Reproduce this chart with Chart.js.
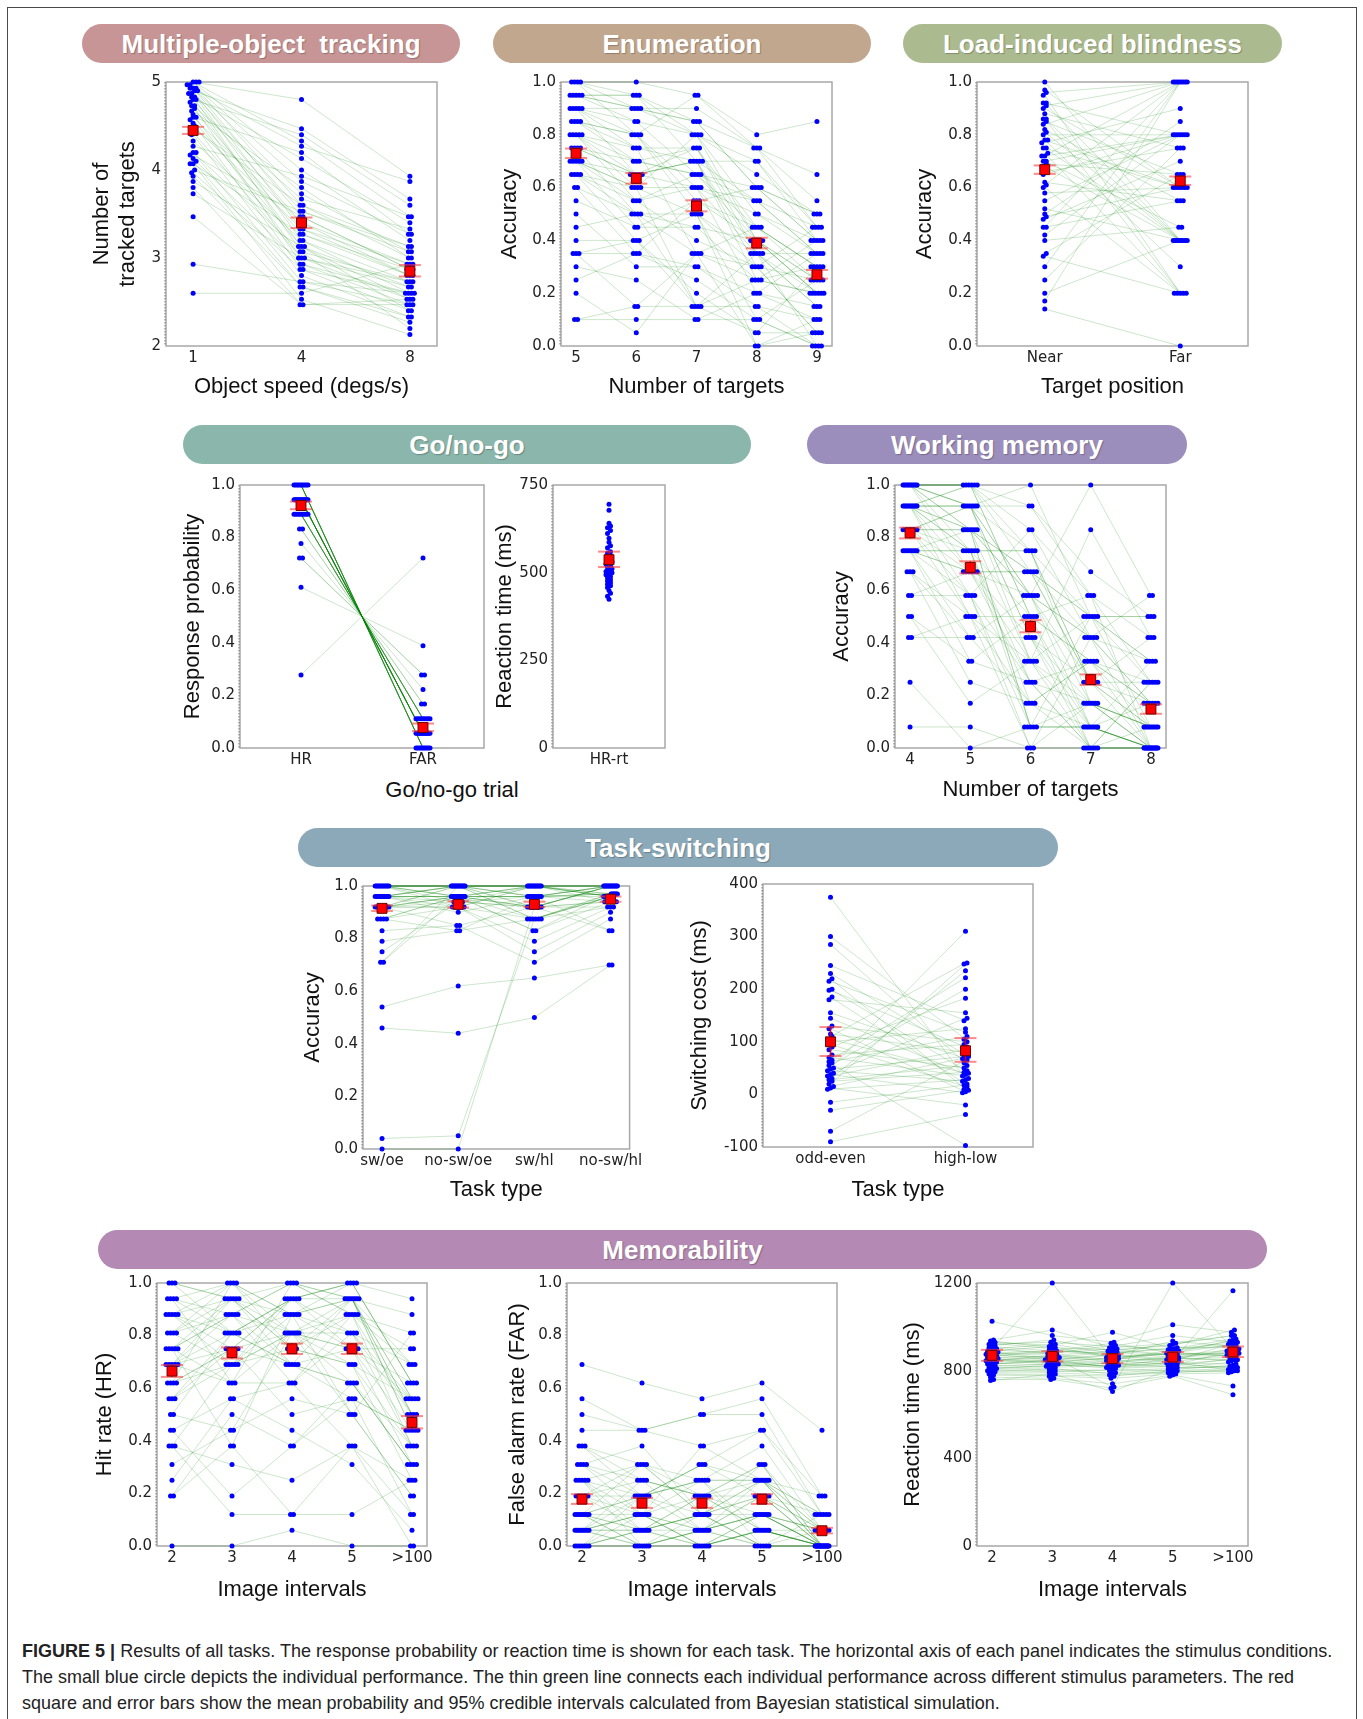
<!DOCTYPE html>
<html>
<head>
<meta charset="utf-8">
<script src="https://cdn.jsdelivr.net/npm/chart.js@4.4.1/dist/chart.umd.min.js"></script>
<style>
  body { margin: 0; background: #fff; }
  #page { position: relative; width: 1363px; height: 1719px; overflow: hidden; }
  #box { position: absolute; left: 7px; top: 7px; width: 1348px; height: 1760px; border: 1.5px solid #4a4a4a; }
  .banner { position: absolute; height: 34px; padding-top: 5px; line-height: 39px; border-radius: 20px; color: #fff; text-align: center;
            font: bold 26px "Liberation Sans", Arial, sans-serif; text-shadow: 1px 1px 1px rgba(0,0,0,0.25); white-space: pre; }
  canvas { position: absolute; }
  .xlab { position: absolute; font: 22px "Liberation Sans", Arial, sans-serif; color: #111; transform: translate(-50%, -50%); white-space: nowrap; }
  .cap { position: absolute; left: 22px; font: 18.5px "Liberation Sans", Arial, sans-serif; color: #222; white-space: nowrap; transform-origin: 0 50%; }
</style>
</head>
<body>
<div id="page">
  <div id="box"></div>

  <div class="banner" style="left:82px;top:24px;width:378px;background:#c79595">Multiple-object  tracking</div>
  <div class="banner" style="left:493px;top:24px;width:378px;background:#c2a78f">Enumeration</div>
  <div class="banner" style="left:903px;top:24px;width:379px;background:#abbb8f">Load-induced blindness</div>
  <div class="banner" style="left:183px;top:425px;width:568px;background:#8ab6ac">Go/no-go</div>
  <div class="banner" style="left:807px;top:425px;width:380px;background:#9c8ebc">Working memory</div>
  <div class="banner" style="left:298px;top:828px;width:760px;background:#8ca9ba">Task-switching</div>
  <div class="banner" style="left:98px;top:1230px;width:1169px;background:#b489b3">Memorability</div>

  <div class="xlab" style="left:452px;top:790px">Go/no-go trial</div>

  <div class="cap" data-w="1310" style="top:1640px"><b>FIGURE 5 |</b> Results of all tasks. The response probability or reaction time is shown for each task. The horizontal axis of each panel indicates the stimulus conditions.</div>
  <div class="cap" data-w="1272" style="top:1666px">The small blue circle depicts the individual performance. The thin green line connects each individual performance across different stimulus parameters. The red</div>
  <div class="cap" data-w="978" style="top:1692px">square and error bars show the mean probability and 95% credible intervals calculated from Bayesian statistical simulation.</div>
</div>

<script>
// ---------- data ----------

// tick labels
const motCats = ['1', '4', '8'];
const enumCats = ['5', '6', '7', '8', '9'];
const libCats = ['Near', 'Far'];
const gngCats = ['HR', 'FAR'];
const gngRtCats = ['HR-rt'];
const wmCats = ['4', '5', '6', '7', '8'];
const tsAccCats = ['sw/oe', 'no-sw/oe', 'sw/hl', 'no-sw/hl'];
const tsCostCats = ['odd-even', 'high-low'];
const memCats = ['2', '3', '4', '5', '>100'];

const motTicks = [2, 3, 4, 5];
const propTicks = [0, 0.2, 0.4, 0.6, 0.8, 1.0];
const gngRtTicks = [0, 250, 500, 750];
const tsCostTicks = [-100, 0, 100, 200, 300, 400];
const memRtTicks = [0, 400, 800, 1200];

// Multiple-object tracking: tracked targets per participant, per speed
const motSpeed1 = [5.0,5.0,5.0,4.97,4.97,4.93,4.93,4.93,4.9,4.9,4.87,4.87,4.83,4.83,4.8,4.8,4.77,4.73,4.73,4.7,4.67,4.63,4.6,4.6,4.57,4.53,4.5,4.47,4.43,4.4,4.33,4.27,4.2,4.2,4.17,4.13,4.1,4.07,4.07,4.0,3.97,3.93,3.87,3.8,3.73,3.47,2.93,2.6];
const motSpeed4 = [4.8,4.33,4.0,3.87,3.6,4.27,3.47,3.73,3.33,4.47,3.2,3.53,4.13,3.07,3.4,4.4,3.13,3.67,2.93,3.27,3.8,3.0,3.4,4.2,3.13,2.87,3.33,3.6,3.0,2.8,3.2,3.93,2.73,3.07,3.47,2.93,2.67,3.27,2.53,3.53,2.87,2.67,3.13,2.47,3.0,2.47,2.73,2.6];
const motSpeed8 = [3.93,3.47,3.2,3.27,3.0,3.87,2.87,3.07,2.93,3.67,2.6,3.13,3.4,2.73,2.8,3.6,2.53,3.33,2.47,2.87,3.0,2.67,2.93,3.27,2.4,2.6,2.8,3.13,2.53,2.33,2.73,3.47,2.47,2.2,2.87,2.6,2.27,2.8,2.13,3.07,2.4,2.33,2.67,2.47,2.73,2.53,2.6,2.93];
const motMean = [4.45, 3.4, 2.85];
const motLo = [4.41, 3.34, 2.79];
const motHi = [4.49, 3.46, 2.92];

// Enumeration accuracy
const enum5 = [1,1,1,1,.95,.95,.95,.95,.95,.9,.9,.9,.9,.9,.85,.85,.85,.85,.8,.8,.8,.8,.8,.75,.75,.75,.75,.7,.7,.7,.7,.7,.65,.65,.65,.65,.6,.6,.55,.5,.45,.4,.35,.35,.35,.3,.25,.2,.1,.1];
const enum6 = [.9,1,.95,.8,.95,.9,.85,.95,.9,.75,.8,.9,.65,.85,.8,.7,.75,.8,.6,.7,.65,.75,.55,.65,.7,.5,.65,.6,.65,.45,.6,.55,.5,.6,.4,.55,.35,.5,.45,.3,.5,.4,.15,.35,.4,.25,.35,.05,.15,.1];
const enum7 = [.85,.95,.8,.95,.7,.9,.65,.85,.8,.75,.6,.85,.7,.8,.55,.75,.7,.5,.8,.65,.7,.35,.6,.75,.65,.45,.6,.15,.7,.55,.5,.65,.35,.6,.5,.4,.55,.15,.45,.3,.5,.2,.35,.25,.15,.1,.3,.35,.15,.1];
const enum8 = [.6,.75,.7,.8,.55,.75,.45,.6,.65,.4,.55,.75,.35,.5,.6,.45,.7,.3,.4,.55,.25,.45,.5,.35,.6,.4,.2,.35,.3,.45,.1,.4,.25,.35,0,.3,.4,.15,.25,.2,.35,.05,.3,.1,.25,.2,.15,0,.05,.1];
const enum9 = [.5,.45,.4,.85,.35,.55,.3,.4,.5,.25,.45,.65,.2,.35,.4,.3,.45,.05,.2,.35,.3,.25,.4,.15,.5,.2,.1,.35,.25,.3,0,.2,.4,.15,.05,.45,.25,.1,.2,.35,0,.3,.05,.25,.2,.15,0,.1,.05,0];
const enumMean = [0.73, 0.635, 0.53, 0.39, 0.27];
const enumLo = [0.712, 0.615, 0.51, 0.37, 0.255];
const enumHi = [0.748, 0.655, 0.552, 0.41, 0.288];

// Load-induced blindness accuracy
const libNear = [1.0,.97,.96,.95,.92,.92,.91,.9,.88,.86,.86,.85,.84,.82,.81,.8,.78,.78,.77,.75,.75,.73,.72,.7,.7,.69,.68,.66,.65,.62,.61,.6,.58,.55,.52,.5,.49,.48,.45,.45,.42,.4,.35,.34,.3,.25,.2,.17,.14,.72];
const libFar = [.4,.6,1,.2,.8,.4,1,.6,.75,.4,.2,.65,1,.55,.4,.8,.6,.3,.9,.4,.6,.2,1,.8,.45,.65,.4,.75,.8,.55,1,.2,.6,.8,.4,.85,.6,.7,1,.55,.8,.45,.65,.2,1,.75,.4,1,0,.8];
const libMean = [0.668, 0.625];
const libLo = [0.652, 0.61];
const libHi = [0.684, 0.642];

// Go/no-go
const gngHR = [1,1,1,1,1,1,1,1,1,1,.944,.944,.944,.944,.944,.944,.944,.944,.944,.944,.944,.944,.944,.944,.944,.889,.889,.889,.889,.889,.889,.889,.889,.833,.833,.778,.722,.722,.611,.278];
const gngFAR = [0,0,0,0,0,0,0,0,0,0,.056,.056,.056,.056,.056,.056,.056,.056,.056,.056,.056,.056,.056,.056,.056,.111,.111,.111,.111,.111,.111,.111,.111,.167,.167,.222,.278,.278,.389,.722];
const gngMean = [0.922, 0.078];
const gngLo = [0.908, 0.064];
const gngHi = [0.937, 0.093];
const gngRT = [695,678,641,633,628,620,612,598,587,577,571,560,556,549,547,540,536,531,527,524,519,515,511,508,503,500,497,494,489,485,480,476,471,467,463,458,449,441,433,424];
const gngRtMean = [537];
const gngRtLo = [516];
const gngRtHi = [560];

// Working memory accuracy
const wm4 = [1,1,1,1,1,1,1,1,1,1,1,.92,.92,.92,.92,.92,.92,.92,.92,.92,.92,.92,.92,.83,.83,.83,.83,.83,.83,.83,.83,.75,.75,.75,.75,.75,.75,.75,.75,.67,.67,.67,.58,.58,.5,.5,.42,.42,.25,.08];
const wm5 = [1,.92,.83,1,.92,.75,1,.83,.92,.67,1,.92,.83,.75,1,.58,.92,.83,.67,.75,.92,1,.5,.83,.92,.67,.58,.75,.83,.5,.92,.67,.75,.42,.83,.58,.67,.33,.75,.5,.42,.25,.67,.58,.33,.17,.5,.42,0,.08];
const wm6 = [.75,.92,.58,.67,1,.5,.83,.33,.75,.58,.92,.42,.67,.25,.5,.83,.58,.08,.67,.75,.33,.5,.17,.58,.42,.67,.25,.75,.08,.5,.58,.33,.17,.42,.67,0,.25,.5,.08,.33,.58,.17,.42,.08,.25,.33,0,.17,.08,0];
const wm7 = [.5,.58,1,.42,.5,.33,.58,.17,.25,.42,.67,.25,.5,0,.33,.42,.08,.5,.25,.17,.83,.08,.33,.42,.17,.5,0,.25,.08,.58,.17,0,.33,.08,.25,.42,.17,0,.08,.5,.25,.08,0,.17,.33,.08,.17,0,.08,0];
const wm8 = [.33,.25,.58,.17,.5,.08,.42,0,.25,.33,.5,.08,.25,0,.17,.58,0,.33,.08,0,.42,0,.25,.17,0,.5,.08,0,.33,0,.08,.25,0,.17,.42,0,.08,.25,0,.08,.17,0,0,.08,.17,0,.08,0,0,0];
const wmMean = [0.818, 0.687, 0.462, 0.26, 0.148];
const wmLo = [0.797, 0.664, 0.44, 0.24, 0.13];
const wmHi = [0.838, 0.71, 0.486, 0.28, 0.166];

// Task-switching accuracy
const tsOeSw = [1,1,1,1,1,1,1,1,1,1,1,1,.96,.96,.96,.96,.96,.96,.96,.96,.96,.96,.96,.92,.92,.92,.92,.92,.92,.92,.92,.92,.875,.875,.875,.875,.83,.79,.75,.71,.71,.54,.46,.04,0];
const tsOeNoSw = [1,1,.96,1,.96,1,.94,1,.96,1,.92,1,1,.96,1,.94,.96,1,.92,.96,1,.96,.9,1,.96,.94,.92,.96,1,.85,.96,.92,.96,.83,.92,.96,.85,.83,.94,.96,1,.62,.44,.05,0];
const tsHlSw = [1,1,1,.96,1,.92,1,.96,1,.92,1,.875,1,.96,1,.92,.96,1,.875,.96,1,.92,.96,.875,.96,.92,1,.83,.96,.92,.875,.79,.92,.96,.75,.83,.71,.875,.96,.92,1,.65,.5,.875,.92];
const tsHlNoSw = [1,.97,1,1,.97,1,.96,1,.94,1,.96,.97,1,.97,.96,1,.94,1,.96,.97,1,.94,.96,.97,1,.92,.96,.97,1,.94,.96,.92,1,.97,.9,.94,.875,.92,.83,.83,1,.7,.7,.96,1];
const tsAccMean = [0.915, 0.93, 0.93, 0.95];
const tsAccLo = [0.905, 0.918, 0.92, 0.94];
const tsAccHi = [0.926, 0.942, 0.94, 0.96];

// Task-switching cost (ms)
const tsCostOddEven = [375,300,285,245,230,220,215,200,198,185,180,155,145,130,125,115,110,105,100,95,90,85,75,70,65,62,60,55,50,48,45,40,38,35,30,28,25,20,15,12,10,-15,-30,-70,-90];
const tsCostHighLow = [30,105,60,140,75,10,118,45,90,20,155,68,38,100,5,80,250,40,125,15,183,50,95,35,222,110,-97,200,310,72,25,145,3,85,235,55,42,248,70,-20,28,18,8,65,-38];
const tsCostMean = [100, 83];
const tsCostLo = [73, 62];
const tsCostHi = [128, 107];

// Memorability: hit rate
const memHr2 = [.94,.62,.88,.5,1,.75,.81,.38,.69,.94,.56,.88,.31,.75,.19,.62,1,.69,.44,.81,.94,.25,.56,.88,.38,.75,.69,0,.81,.62,.19,.94,.5,.69,.88,.38,.81,.56,1,.75,.44,.69,.62,.88,.75];
const memHr3 = [.88,1,.75,.81,.94,.62,.94,.69,.88,.81,.69,1,.44,.88,.38,.75,.94,.81,.19,.69,1,.56,.81,.69,.31,.94,.62,0,.88,.75,.5,.62,.44,.94,.81,.12,1,.75,.81,.88,.56,.75,.69,.94,.38];
const memHr4 = [1,.81,.94,.69,.88,1,.75,.81,.62,.94,.75,.88,.56,.81,.12,.94,1,.69,.38,.88,.75,.44,.88,.94,.25,.81,.62,.06,1,.69,.38,.81,.81,.75,.94,.12,.88,.5,.94,.69,.62,.81,.81,.69,.88];
const memHr5 = [.94,.94,1,.94,.81,.88,.94,.75,.88,1,.69,.94,.5,.75,.38,.81,.88,.62,.56,.94,.88,.31,.75,1,.38,.69,.81,0,.94,.56,.62,.88,.5,.69,.75,.12,1,.56,.94,.62,.38,.81,.62,.75,.5];
const memHr100 = [.56,.5,.62,.44,.69,.38,.56,.31,.5,.62,.25,.44,.19,.56,0,.38,.81,.31,.12,.5,.69,.06,.44,.62,.25,.38,.5,0,.69,.44,.31,.75,.19,.56,.62,.25,.94,.44,.88,.31,.12,.56,.38,.75,.81];
const memHrMean = [0.665, 0.735, 0.75, 0.75, 0.47];
const memHrLo = [0.643, 0.713, 0.73, 0.73, 0.447];
const memHrHi = [0.688, 0.755, 0.77, 0.77, 0.494];

// Memorability: false alarm rate
const memFar2 = [.69,.56,.5,.44,.38,.38,.38,.31,.31,.31,.31,.25,.25,.25,.25,.25,.19,.19,.19,.19,.19,.12,.12,.12,.12,.12,.12,.12,.12,.06,.06,.06,.06,.06,.06,.06,.06,.06,0,0,0,0,0,0,0];
const memFar3 = [.62,.44,.44,.44,.31,.19,.25,.12,.38,.19,.25,.06,.31,.12,0,.19,.31,.06,.25,.12,.19,.06,.31,0,.19,.06,.12,.19,0,.12,.25,0,.06,.19,.12,0,.06,.12,.06,0,.12,.06,.19,0,.06];
const memFar4 = [.56,.5,.5,.38,.25,.31,.19,.25,.12,.31,.06,.19,.12,.38,.06,.25,.12,0,.19,.06,.25,.12,.19,.06,.12,0,.19,.31,.12,.06,.19,0,.12,.25,0,.06,.19,0,.12,.06,0,.12,.06,0,.06];
const memFar5 = [.62,.56,.5,.44,.38,.44,.31,.25,.19,.25,.12,.25,.31,.25,.19,.06,.25,.12,.19,.25,0,.19,.06,.12,.25,.12,.06,.19,0,.12,.31,.06,.12,.25,.06,0,.12,.06,0,.19,.06,0,.12,.06,0];
const memFar100 = [.44,.19,.12,.19,.06,.12,0,.06,0,.19,0,.06,0,.12,0,.06,0,0,.06,0,.12,0,0,.06,0,.06,0,.12,0,0,.06,0,0,.12,0,0,.06,0,0,.06,0,0,0,0,.06];
const memFarMean = [0.178, 0.163, 0.163, 0.178, 0.058];
const memFarLo = [0.16, 0.145, 0.145, 0.16, 0.048];
const memFarHi = [0.197, 0.183, 0.181, 0.197, 0.069];

// Memorability: reaction time (ms)
const memRt2 = [1025,940,930,920,935,910,900,895,925,880,890,870,905,865,875,860,850,885,845,855,840,835,830,825,820,815,810,805,800,795,790,785,780,770,760,755,900,845,860,915,875,830,850,880,810];
const memRt3 = [960,985,915,930,905,890,920,880,900,870,910,860,875,895,850,865,845,855,870,835,840,825,845,815,830,805,820,800,795,810,790,780,775,765,760,785,1200,860,850,940,880,850,830,890,825];
const memRt4 = [930,905,975,910,895,925,880,915,870,890,860,885,850,865,875,840,855,830,845,860,820,835,815,825,810,800,835,790,805,785,780,775,765,740,720,705,850,725,870,890,900,815,845,880,820];
const memRt5 = [1010,925,900,960,915,880,905,890,935,870,880,860,895,875,850,865,885,845,855,840,830,860,825,835,820,810,815,805,800,795,790,800,785,780,775,810,880,1200,845,920,870,840,830,900,855];
const memRt100 = [975,960,945,930,985,920,905,935,910,895,940,890,915,880,900,870,865,925,860,875,850,845,890,830,855,840,815,825,810,800,805,795,790,730,690,820,870,900,1165,960,880,800,815,925,850];
const memRtMean = [870, 865, 855, 862, 885];
const memRtLo = [845, 842, 834, 840, 862];
const memRtHi = [895, 888, 876, 885, 910];

// ---------- drawing ----------
const AXIS_W = 90;   // room left of each plot for y ticks + title
const AXIS_H = 62;   // room under each plot for x ticks + title
const PAD_T = 10, PAD_R = 12;
const TITLE_HALF = 13.2; // half line height of a 22px title
const LINE_GREEN = 'rgba(0,128,0,0.2)';
const DOT_BLUE = '#0000ff';

const framePlugin = {
  id: 'frame',
  beforeDatasetsDraw(chart) {
    const { ctx, chartArea: a } = chart;
    ctx.save();
    ctx.strokeStyle = '#a8a8a8';
    ctx.lineWidth = 1.5;
    ctx.strokeRect(a.left, a.top, a.right - a.left, a.bottom - a.top);
    ctx.strokeStyle = '#777';
    ctx.lineWidth = 1;
    ctx.setLineDash([1.5, 1.5]);
    ctx.beginPath();
    ctx.moveTo(a.left - 1, a.top);
    ctx.lineTo(a.left - 1, a.bottom);
    ctx.stroke();
    ctx.restore();
  }
};

// dots with (nearly) the same value are laid side by side in a short row
function swarm(values, col, pxPerX, pxPerY) {
  const order = values.map((v, i) => i).sort((a, b) => values[a] - values[b]);
  const out = [];
  let row = [];
  const flush = () => {
    const span = Math.min(3 * (row.length - 1), 14);
    row.forEach((idx, k) => {
      const off = row.length > 1 ? -span / 2 + span * k / (row.length - 1) : 0;
      out[idx] = { x: col + off / pxPerX, y: values[idx] };
    });
    row = [];
  };
  order.forEach(i => {
    if (row.length && (values[i] - values[row[0]]) * pxPerY >= 3) flush();
    row.push(i);
  });
  flush();
  return out;
}

function panel(p) {
  const cv = document.createElement('canvas');
  cv.width = AXIS_W + p.w + PAD_R;
  cv.height = PAD_T + p.h + AXIS_H;
  cv.style.left = (p.left - AXIS_W) + 'px';
  cv.style.top = (p.top - PAD_T) + 'px';
  document.getElementById('page').appendChild(cv);

  const pxPerX = p.w / (p.xmax - p.xmin);
  const pxPerY = p.h / (p.ymax - p.ymin);
  const ds = [];

  // one thin green line per participant
  if (p.cols.length > 1) {
    for (let i = 0; i < p.cols[0].length; i++) {
      ds.push({ data: p.cols.map((c, j) => ({ x: j, y: c[i] })), showLine: true, borderColor: LINE_GREEN,
                borderWidth: 1, pointRadius: 0, pointHoverRadius: 0, order: 3, clip: 2 });
    }
  }
  // blue dots
  p.cols.forEach((c, j) => {
    ds.push({ data: swarm(c, j, pxPerX, pxPerY), pointRadius: 2.5, backgroundColor: DOT_BLUE,
              borderColor: DOT_BLUE, borderWidth: 0, order: 2, clip: 6 });
  });
  // credible intervals
  const cap = 11 / pxPerX;
  p.mean.forEach((m, j) => {
    ds.push({ data: [{ x: j, y: p.lo[j] }, { x: j, y: p.hi[j] }], showLine: true, borderColor: 'rgba(220,0,0,0.85)',
              borderWidth: 1.5, pointRadius: 0, order: 1 });
    [p.lo[j], p.hi[j]].forEach(b => {
      ds.push({ data: [{ x: j - cap, y: b }, { x: j + cap, y: b }], showLine: true, borderColor: 'rgba(255,60,60,0.6)',
                borderWidth: 2, pointRadius: 0, order: 1 });
    });
  });
  // means
  ds.push({ data: p.mean.map((m, j) => ({ x: j, y: m })), pointStyle: 'rect', pointRadius: 7,
            backgroundColor: '#ff0000', borderColor: '#6a0000', borderWidth: 1, order: 0, clip: 10 });

  const tickFont = { family: 'DejaVu Sans', size: 15 };
  const titleFont = { family: 'Liberation Sans', size: 22 };

  new Chart(cv, {
    type: 'scatter',
    data: { datasets: ds },
    options: {
      responsive: false, animation: false, devicePixelRatio: 1, events: [],
      layout: { padding: { top: PAD_T, right: PAD_R, left: 0, bottom: 0 } },
      plugins: { legend: { display: false }, tooltip: { enabled: false } },
      scales: {
        x: {
          type: 'linear', min: p.xmin, max: p.xmax,
          grid: { display: false, drawTicks: false }, border: { display: false },
          afterBuildTicks: s => { s.ticks = p.cats.map((c, i) => ({ value: i })); },
          ticks: { callback: v => p.cats[Math.round(v)], font: tickFont, color: '#222', padding: 3, maxRotation: 0, autoSkip: false },
          title: p.xTitle
            ? { display: true, text: p.xTitle, font: titleFont, color: '#111', padding: { top: 0, bottom: AXIS_H - p.xd - TITLE_HALF } }
            : { display: false },
          afterFit: s => { s.height = AXIS_H; }
        },
        y: {
          type: 'linear', min: p.ymin, max: p.ymax,
          grid: { display: false, drawTicks: false }, border: { display: false },
          afterBuildTicks: s => { s.ticks = p.yTicks.map(v => ({ value: v })); },
          ticks: { callback: p.yFmt, font: tickFont, color: '#222', padding: 5 },
          title: { display: true, text: p.yTitle, font: titleFont, color: '#111', padding: { top: AXIS_W - p.yd - TITLE_HALF, bottom: 0 } },
          afterFit: s => { s.width = AXIS_W; }
        }
      }
    },
    plugins: [framePlugin]
  });
}

const oneDec = v => v.toFixed(1);
const plain = v => String(v);

panel({ left: 166, top: 78, w: 271, h: 268, xmin: -0.25, xmax: 2.25, ymin: 2, ymax: 5, yTicks: motTicks, yFmt: plain,
        cats: motCats, cols: [motSpeed1, motSpeed4, motSpeed8], mean: motMean, lo: motLo, hi: motHi,
        yTitle: ['Number of', 'tracked targets'], yd: 64, xTitle: 'Object speed (degs/s)', xd: 41 });
panel({ left: 561, top: 78, w: 271, h: 268, xmin: -0.25, xmax: 4.25, ymin: 0, ymax: 1, yTicks: propTicks, yFmt: oneDec,
        cats: enumCats, cols: [enum5, enum6, enum7, enum8, enum9], mean: enumMean, lo: enumLo, hi: enumHi,
        yTitle: 'Accuracy', yd: 51, xTitle: 'Number of targets', xd: 41 });
panel({ left: 977, top: 78, w: 271, h: 268, xmin: -0.5, xmax: 1.5, ymin: 0, ymax: 1, yTicks: propTicks, yFmt: oneDec,
        cats: libCats, cols: [libNear, libFar], mean: libMean, lo: libLo, hi: libHi,
        yTitle: 'Accuracy', yd: 52, xTitle: 'Target position', xd: 41 });
panel({ left: 240, top: 481, w: 244, h: 267, xmin: -0.5, xmax: 1.5, ymin: 0, ymax: 1, yTicks: propTicks, yFmt: oneDec,
        cats: gngCats, cols: [gngHR, gngFAR], mean: gngMean, lo: gngLo, hi: gngHi,
        yTitle: 'Response probability', yd: 47, xTitle: null, xd: 42 });
panel({ left: 553, top: 481, w: 112, h: 267, xmin: -0.5, xmax: 0.5, ymin: 0, ymax: 750, yTicks: gngRtTicks, yFmt: plain,
        cats: gngRtCats, cols: [gngRT], mean: gngRtMean, lo: gngRtLo, hi: gngRtHi,
        yTitle: 'Reaction time (ms)', yd: 48, xTitle: null, xd: 42 });
panel({ left: 895, top: 481, w: 271, h: 267, xmin: -0.25, xmax: 4.25, ymin: 0, ymax: 1, yTicks: propTicks, yFmt: oneDec,
        cats: wmCats, cols: [wm4, wm5, wm6, wm7, wm8], mean: wmMean, lo: wmLo, hi: wmHi,
        yTitle: 'Accuracy', yd: 53, xTitle: 'Number of targets', xd: 42 });
panel({ left: 363, top: 882, w: 271, h: 267, xmin: -0.25, xmax: 3.25, ymin: 0, ymax: 1, yTicks: propTicks, yFmt: oneDec,
        cats: tsAccCats, cols: [tsOeSw, tsOeNoSw, tsHlSw, tsHlNoSw], mean: tsAccMean, lo: tsAccLo, hi: tsAccHi,
        yTitle: 'Accuracy', yd: 50, xTitle: 'Task type', xd: 41 });
panel({ left: 763, top: 880, w: 270, h: 267, xmin: -0.5, xmax: 1.5, ymin: -100, ymax: 400, yTicks: tsCostTicks, yFmt: plain,
        cats: tsCostCats, cols: [tsCostOddEven, tsCostHighLow], mean: tsCostMean, lo: tsCostLo, hi: tsCostHi,
        yTitle: 'Switching cost (ms)', yd: 63, xTitle: 'Task type', xd: 43 });
panel({ left: 157, top: 1279, w: 270, h: 267, xmin: -0.25, xmax: 4.25, ymin: 0, ymax: 1, yTicks: propTicks, yFmt: oneDec,
        cats: memCats, cols: [memHr2, memHr3, memHr4, memHr5, memHr100], mean: memHrMean, lo: memHrLo, hi: memHrHi,
        yTitle: 'Hit rate (HR)', yd: 52, xTitle: 'Image intervals', xd: 44 });
panel({ left: 567, top: 1279, w: 270, h: 267, xmin: -0.25, xmax: 4.25, ymin: 0, ymax: 1, yTicks: propTicks, yFmt: oneDec,
        cats: memCats, cols: [memFar2, memFar3, memFar4, memFar5, memFar100], mean: memFarMean, lo: memFarLo, hi: memFarHi,
        yTitle: 'False alarm rate (FAR)', yd: 49, xTitle: 'Image intervals', xd: 44 });
panel({ left: 977, top: 1279, w: 271, h: 267, xmin: -0.25, xmax: 4.25, ymin: 0, ymax: 1200, yTicks: memRtTicks, yFmt: plain,
        cats: memCats, cols: [memRt2, memRt3, memRt4, memRt5, memRt100], mean: memRtMean, lo: memRtLo, hi: memRtHi,
        yTitle: 'Reaction time (ms)', yd: 64, xTitle: 'Image intervals', xd: 44 });

// squeeze each caption line to the width it has in the figure
document.querySelectorAll('.cap').forEach(el => {
  el.style.transform = 'scaleX(' + (Number(el.dataset.w) / el.scrollWidth) + ')';
});
</script>
</body>
</html>
